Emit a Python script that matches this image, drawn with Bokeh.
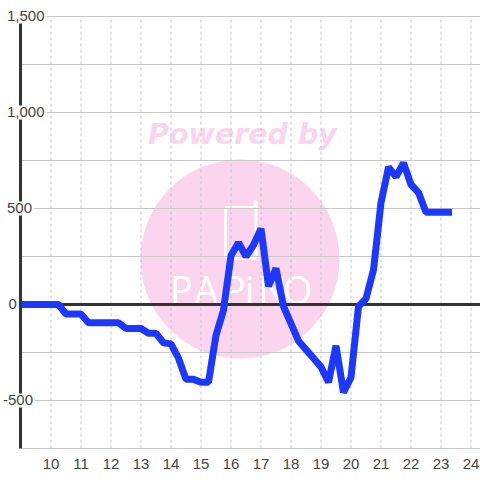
from bokeh.plotting import figure
from bokeh.models import Label, FixedTicker
from bokeh.core.properties import value
from bokeh.embed import file_html
from bokeh.resources import INLINE

hours = [9, 9.25, 9.5, 9.75, 10, 10.25, 10.5, 10.75, 11, 11.25, 11.5, 11.75, 12, 12.25, 12.5, 12.75,
         13, 13.25, 13.5, 13.75, 14, 14.25, 14.5, 14.75, 15, 15.25, 15.5, 15.75, 16, 16.25, 16.5, 16.75,
         17, 17.25, 17.5, 17.75, 18, 18.25, 18.5, 18.75, 19, 19.25, 19.5, 19.75, 20, 20.25, 20.5, 20.75,
         21, 21.25, 21.5, 21.75, 22, 22.25, 22.5, 22.75, 23, 23.25]
values = [0, 0, 0, 0, 0, 0, -50, -50, -50, -95, -95, -95, -95, -95, -125, -125,
          -125, -150, -150, -200, -205, -280, -390, -390, -405, -405, -160, -30, 255, 322, 250, 310,
          395, 95, 188, -10, -100, -190, -235, -280, -325, -405, -215, -458, -380, -10, 30, 180,
          530, 715, 665, 738, 625, 583, 480, 480, 480, 480]
x_ticks = list(range(10, 25))
y_grid = [-750, -500, -250, 0, 250, 500, 750, 1000, 1250, 1500]
y_labels = {1500: "1,500", 1000: "1,000", 500: "500", 0: "0", -500: "-500"}

X0, X1 = 8.3167, 24.3167
Y0, Y1 = -916.7, 1583.3
AX_L, GRID_B, GRID_T = 9, -750, 1500

def px_x(px):
    return X0 + px / 30

def px_y(py):
    return (304 - py) * 500 / 96

p = figure(width=480, height=480, x_range=(X0, X1), y_range=(Y0, Y1),
           output_backend="svg", toolbar_location=None, min_border=0,
           background_fill_color="white", border_fill_color="white")
p.styles = {"position": "absolute", "left": "0px", "top": "0px"}
p.outline_line_color = None
p.grid.visible = False

# watermark
PINK = "#fbd5ee"
p.scatter([px_x(239.5)], [px_y(258.5)], size=199, marker="circle", fill_color=PINK, line_color=None, level="image")
p.text([px_x(242)], [px_y(134)], text=["Powered by"], text_font=value("DejaVu Sans"),
       text_font_style="bold italic", text_font_size="28.5px", text_color=PINK,
       text_align="center", text_baseline="middle", level="image")
p.line([px_x(v) for v in (254.5, 254.5, 226, 225, 225, 227, 254, 255.5, 255.5, 254.5)],
       [px_y(v) for v in (201, 207, 207, 209, 255, 258, 258, 255, 201, 201)],
       line_color="white", line_width=3, line_join="round", line_cap="round", level="image")
letters = ["P", "A", "P", "i", "N", "O"]
letter_px = [181, 206, 234, 249, 272, 297]
p.text([px_x(v) for v in letter_px], [px_y(289)] * 6, text=letters, text_font=value("Open Sans"),
       text_font_size="38px", text_color="white", text_align="center", text_baseline="middle", level="image")

# grid, clipped to the plot box
p.segment([AX_L] * len(y_grid), y_grid, [X1] * len(y_grid), y_grid,
          line_color="#c8c8c8", line_width=1, level="underlay")
p.segment(x_ticks, [GRID_B] * len(x_ticks), x_ticks, [GRID_T] * len(x_ticks),
          line_color="#c4c4c4", line_width=1, line_dash="3 3", level="underlay")
# zero line
p.segment([AX_L], [0], [X1], [0], line_color="#333333", line_width=3, level="underlay")

# axes
p.xaxis.fixed_location = GRID_B
p.xaxis.ticker = FixedTicker(ticks=x_ticks)
p.xaxis.axis_line_color = None
p.xaxis.major_tick_line_color = None
p.xaxis.minor_tick_line_color = None
p.xaxis.major_label_text_font = "Liberation Sans"
p.xaxis.major_label_text_font_size = "15px"
p.xaxis.major_label_text_color = "#444444"
p.xaxis.major_label_standoff = 5

p.yaxis.fixed_location = AX_L
p.yaxis.ticker = FixedTicker(ticks=[])
p.yaxis.bounds = (GRID_B, GRID_T)
p.yaxis.axis_line_color = "#333333"
p.yaxis.axis_line_width = 3
p.yaxis.major_tick_line_color = None
p.yaxis.minor_tick_line_color = None

p.line(hours, values, line_color="#1c38ff", line_width=7, line_join="bevel", line_cap="square")

for v, txt in y_labels.items():
    left = 6 if v == 0 else (0.5 if v < 0 else 4.5)
    p.add_layout(Label(x=left, y=v, x_units="screen", y_units="data", text=txt,
                       text_font="Liberation Sans", text_font_size="15px", text_color="#444444",
                       text_baseline="middle", text_align="left",
                       background_fill_color="white", padding=2))

open("out.html", "w").write(file_html(p, INLINE))
